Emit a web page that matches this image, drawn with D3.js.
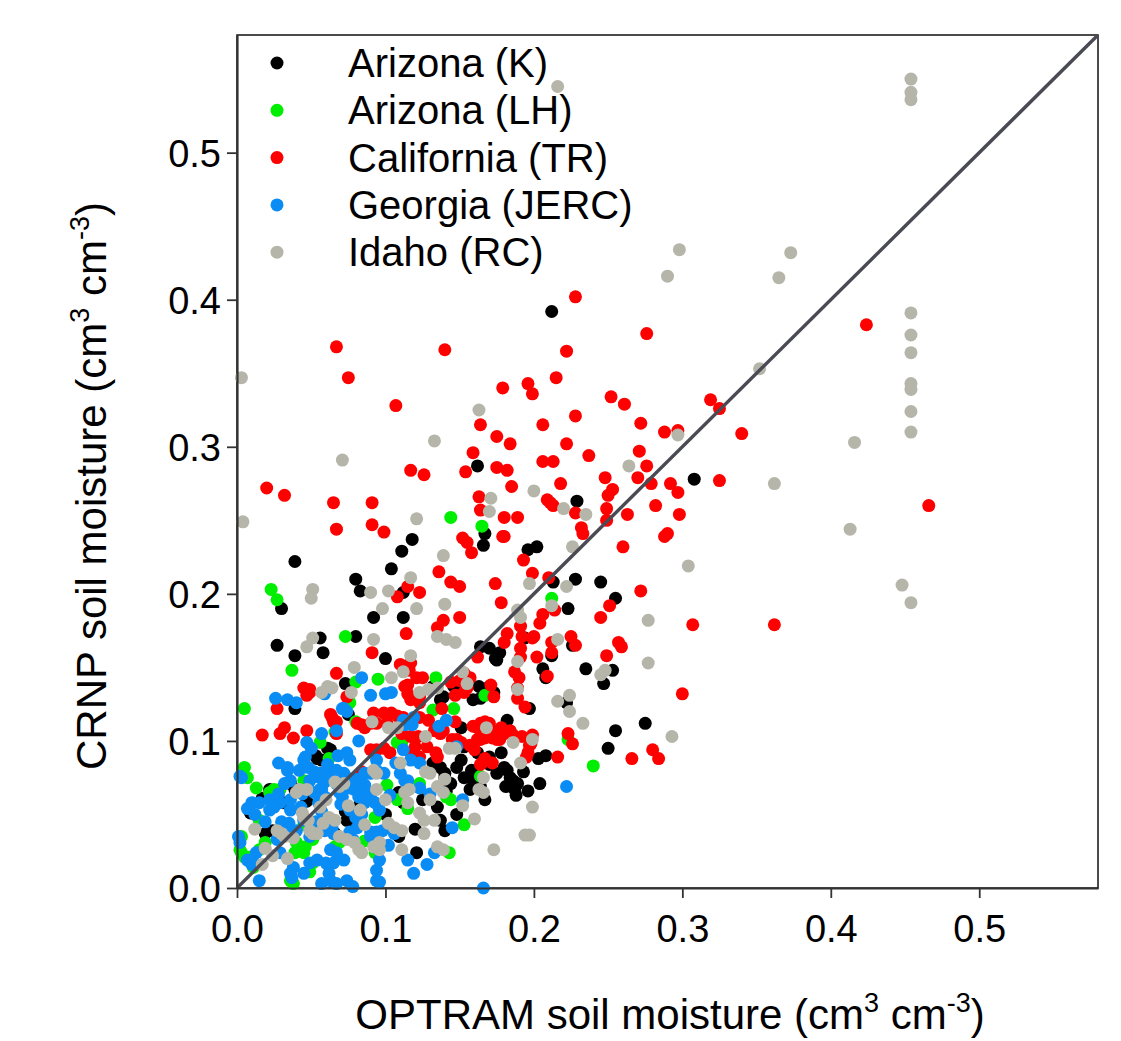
<!DOCTYPE html>
<html>
<head>
<meta charset="utf-8">
<script src="https://cdn.jsdelivr.net/npm/d3@7"></script>
<style>
  html, body { margin: 0; padding: 0; background: #fff; }
  svg text { font-family: Arial, "Liberation Sans", sans-serif; fill: #000; }
</style>
</head>
<body>
<div id="chart"></div>
<script>
// Legend entries and colours
const seriesNames = ["Arizona (K)", "Arizona (LH)", "California (TR)", "Georgia (JERC)", "Idaho (RC)"];
const seriesColors = ["#000000", "#00ee00", "#ff0000", "#0a8cf5", "#b5b5a9"];
const xTicks = [0.0, 0.1, 0.2, 0.3, 0.4, 0.5];
const yTicks = [0.0, 0.1, 0.2, 0.3, 0.4, 0.5];

// [OPTRAM, CRNP] soil moisture
const arizonaK = [
  [.212,.392],[.162,.287],[.308,.278],[.229,.263],[.167,.241],[.118,.237],[.111,.229],[.166,.233],
  [.039,.222],[.104,.217],[.080,.210],[.083,.202],[.112,.201],[.030,.190],[.092,.184],[.112,.184],
  [.027,.165],[.056,.170],[.080,.171],[.100,.156],[.039,.158],[.164,.164],[.170,.163],[.177,.160],
  [.174,.156],[.196,.230],[.202,.232],[.213,.208],[.228,.210],[.245,.208],[.255,.197],[.223,.190],
  [.194,.170],[.226,.165],[.212,.158],[.206,.149],[.235,.149],[.253,.148],[.247,.139],[.197,.122],
  [.222,.126],[.255,.107],[.275,.112],[.250,.095],[.208,.090],[.203,.088],[.204,.071],[.073,.139],
  [.137,.128],[.132,.137],[.163,.137],[.170,.137],[.173,.133],[.039,.122],[.075,.118],[.182,.114],
  [.162,.092],[.170,.089],[.180,.082],[.153,.096],[.184,.075],[.189,.071],[.187,.067],[.137,.082],
  [.140,.075],[.144,.071],[.153,.075],[.157,.067],[.135,.055],[.137,.046],[.140,.039],[.109,.065],
  [.112,.058],[.109,.035],[.053,.090],[.061,.095],[.057,.087],[.009,.051],[.022,.067],[.036,.071],
  [.039,.067],[.073,.052],[.074,.046],[.121,.024],[.019,.037],[.066,.037],[.054,.088],[.063,.094],
  [.175,.155],[.208,.143],[.146,.137],[.139,.130],[.159,.128],[.164,.129],[.151,.109],[.151,.087],
  [.148,.082],[.159,.073],[.164,.069],[.170,.084],[.175,.078],[.182,.080],[.186,.073],[.181,.069],
  [.188,.063],[.132,.085],[.140,.078],[.141,.066],[.058,.160],[.024,.039],[.047,.059],
  [.178,.092],[.193,.079],[.196,.066],[.158,.080],[.167,.060],[.125,.060],[.120,.040],[.100,.050],
  [.083,.058],[.079,.043],[.031,.058],[.017,.061],[.148,.050]
];
const arizonaLH = [
  [.144,.252],[.165,.246],[.023,.203],[.027,.196],[.212,.197],[.073,.171],[.037,.148],[.080,.140],
  [.095,.142],[.134,.143],[.146,.122],[.005,.122],[.076,.126],[.080,.113],[.134,.107],[.223,.101],
  [.240,.083],[.164,.076],[.141,.062],[.144,.060],[.153,.043],[.108,.060],[.115,.054],[.093,.048],
  [.005,.082],[.007,.075],[.013,.068],[.015,.046],[.022,.065],[.029,.067],[.045,.043],[.066,.028],
  [.069,.031],[.093,.024],[.143,.024],[.036,.005],[.015,.026],[.019,.031],[.002,.026],[.003,.024],
  [.039,.024],[.045,.024],[.051,.033],[.056,.099],[.045,.073],[.025,.067],[.027,.060],[.051,.017],
  [.049,.011],[.038,.003],[.003,.035],[.005,.021],[.040,.031],[.046,.028],[.009,.021],[.011,.014],
  [.108,.099],[.111,.099],[.123,.071],[.167,.131],[.132,.121],[.066,.106],[.118,.089],
  [.062,.088],[.101,.070],[.086,.032]
];
const californiaTR = [
  [.067,.368],[.140,.366],[.075,.347],[.107,.328],[.179,.340],[.196,.343],[.199,.336],[.164,.315],
  [.175,.307],[.184,.302],[.159,.296],[.175,.286],[.182,.284],[.154,.283],[.117,.284],[.126,.281],
  [.185,.273],[.020,.272],[.032,.267],[.065,.262],[.091,.262],[.163,.266],
  [.228,.402],[.424,.383],[.276,.377],[.222,.365],[.215,.347],[.252,.334],[.261,.329],[.319,.332],
  [.325,.326],[.228,.321],[.206,.315],[.272,.316],[.288,.310],[.297,.311],[.340,.309],[.222,.302],
  [.271,.297],[.237,.294],[.206,.290],[.213,.290],[.276,.287],[.270,.279],[.248,.279],[.279,.275],
  [.325,.277],[.292,.275],[.297,.269],[.218,.275],[.253,.271],[.250,.267],[.209,.264],[.213,.260],
  [.228,.255],[.249,.258],[.249,.250],[.263,.254],[.282,.260],[.298,.254],[.180,.252],[.189,.252],
  [.232,.245],[.233,.241],[.288,.239],[.290,.241],[.180,.239],[.260,.232],[.193,.223],[.199,.214],
  [.210,.211],[.272,.202],[.251,.192],[.245,.184],[.307,.179],[.362,.179],[.206,.186],[.204,.180],
  [.199,.170],[.225,.171],[.228,.165],[.257,.167],[.259,.164],[.466,.260],
  [.211,.262],[.214,.189],[.212,.167],[.200,.171],[.212,.160],[.202,.157],[.249,.158],[.209,.144],
  [.300,.132],[.223,.105],[.226,.098],[.199,.104],[.197,.097],[.280,.094],[.284,.088],[.266,.088],
  [.216,.089],
  [.067,.244],[.091,.247],[.099,.242],[.164,.257],[.152,.238],[.155,.235],[.158,.228],[.179,.239],
  [.136,.215],[.115,.205],[.123,.201],[.108,.198],[.144,.208],[.150,.205],[.174,.207],[.178,.194],
  [.114,.173],[.135,.177],[.139,.182],[.150,.184],[.091,.160],[.162,.157],[.191,.178],[.192,.171],
  [.187,.147],[.190,.143],[.189,.136],[.067,.146],[.110,.152],[.117,.153],[.115,.138],[.123,.130],
  [.147,.131],[.153,.133],[.144,.140],[.150,.141],[.153,.146],[.171,.138],[.173,.130],[.045,.136],
  [.049,.133],[.027,.122],[.064,.116],[.067,.113],[.084,.111],[.090,.112],[.104,.119],[.108,.117],
  [.112,.116],[.115,.113],[.123,.116],[.129,.114],[.133,.107],[.139,.107],[.137,.105],[.147,.113],
  [.148,.101],[.162,.109],[.167,.113],[.170,.112],[.173,.107],[.162,.101],[.167,.102],[.172,.102],
  [.177,.101],[.157,.097],[.160,.094],[.180,.105],[.184,.107],[.192,.103],[.196,.092],[.172,.085],
  [.167,.088],[.165,.085],[.182,.173],[.180,.167],[.191,.163],[.191,.157],[.189,.129],[.194,.123],
  [.116,.148],[.121,.143],[.125,.143],[.157,.143],[.155,.136],[.113,.137],[.115,.132],[.117,.128],
  [.123,.126],[.138,.122],[.159,.110],[.164,.112],[.178,.109],[.186,.104],[.198,.098],[.195,.089],
  [.164,.101],[.175,.101],[.164,.084],[.145,.101],[.151,.099],[.134,.092],[.135,.089],[.111,.105],
  [.117,.103],[.122,.103],[.120,.096],[.117,.092],[.123,.089],[.128,.096],
  [.017,.104],[.029,.105],[.032,.109],[.038,.102],[.047,.107],[.047,.131],[.049,.135],[.063,.118],
  [.065,.113],[.067,.105],[.092,.119],[.099,.119],[.101,.112],[.094,.112],[.090,.094],[.094,.094],
  [.099,.095],[.103,.092],[.084,.079],[.081,.112],[.086,.109],[.074,.130]
];
const georgiaJERC = [
  [.084,.143],[.090,.131],[.100,.132],[.104,.133],[.026,.129],[.034,.128],[.040,.126],[.071,.122],
  [.074,.120],[.062,.136],[.059,.132],[.112,.114],[.115,.112],[.119,.116],[.141,.114],[.152,.060],
  [.145,.041],[.123,.085],[.117,.087],[.115,.073],[.110,.078],[.123,.068],[.130,.064],[.086,.058],
  [.090,.061],[.098,.039],[.106,.037],[.086,.078],[.086,.070],[.076,.087],[.074,.092],[.072,.078],
  [.067,.071],[.069,.065],[.056,.078],[.059,.072],[.057,.067],[.049,.073],[.052,.065],[.046,.089],
  [.048,.082],[.028,.085],[.034,.082],[.036,.073],[.003,.075],[.010,.058],[.007,.054],[.012,.050],
  [.025,.055],[.022,.053],[.032,.071],[.036,.053],[.030,.045],[.035,.044],[.057,.052],[.062,.046],
  [.065,.037],[.076,.053],[.080,.048],[.081,.041],[.063,.026],[.067,.024],[.072,.019],[.090,.035],
  [.102,.029],[.096,.019],[.094,.012],[.115,.019],[.119,.010],[.128,.016],[.133,.024],[.096,.004],
  [.166,.000],[.057,.003],[.063,.005],[.067,.003],[.074,.005],[.078,.001],[.045,.010],[.049,.017],
  [.037,.007],[.038,.014],[.015,.005],[.010,.016],[.013,.024],[.007,.019],[.001,.035],[.002,.031],
  [.037,.037],[.040,.039],[.051,.038],[.054,.019],[.061,.016],[.057,.105],[.067,.107],[.072,.122],
  [.047,.099],[.034,.080],[.045,.087],[.042,.080],[.015,.058],[.022,.060],[.029,.058],[.036,.060],
  [.056,.075],[.056,.067],[.055,.058],[.059,.062],[.063,.078],[.067,.080],[.074,.075],[.076,.068],
  [.079,.067],[.082,.062],[.086,.067],[.090,.078],[.094,.080],[.089,.061],[.093,.058],[.096,.053],
  [.094,.087],[.099,.078],[.090,.038],[.094,.038],[.076,.038],[.078,.033],[.060,.017],[.065,.017],
  [.062,.010],[.036,.010],[.011,.017],[.029,.024],[.027,.033],[.045,.046],[.049,.035],[.059,.039],
  [.064,.041],[.094,.005],[.222,.069],[.148,.096],[.113,.111],[.118,.111],[.112,.094],[.113,.073],
  [.002,.076],[.050,.095],[.044,.064],[.070,.057],
  [.061,.084],[.052,.079],[.068,.090],[.080,.074],[.071,.062],[.053,.045],[.084,.050],[.103,.063],
  [.107,.085],[.043,.055],[.019,.045],[.028,.064],[.136,.110],[.082,.100]
];
const idahoRC = [
  [.003,.347],[.004,.249],[.216,.545],[.298,.434],[.290,.416],[.365,.415],[.373,.432],[.352,.353],
  [.454,.550],[.454,.541],[.454,.536],[.454,.391],[.454,.376],[.454,.364],[.454,.343],[.454,.339],
  [.454,.324],[.454,.310],[.448,.206],[.454,.194],[.416,.303],[.413,.244],[.362,.275],[.304,.219],
  [.297,.308],[.264,.287],[.277,.182],[.277,.153],[.293,.103],[.220,.258],[.235,.254],[.226,.232],
  [.163,.325],[.133,.304],[.071,.291],[.171,.265],[.200,.270],[.197,.207],[.222,.205],[.212,.192],
  [.189,.189],[.191,.184],[.216,.169],[.216,.127],[.224,.131],[.224,.120],[.233,.112],[.248,.148],
  [.245,.145],[.199,.101],[.199,.055],[.197,.036],[.121,.251],[.139,.226],[.117,.211],[.051,.203],
  [.050,.197],[.090,.201],[.102,.202],[.098,.190],[.121,.190],[.140,.193],[.170,.256],[.051,.170],
  [.047,.164],[.092,.169],[.117,.158],[.135,.171],[.141,.169],[.147,.167],[.189,.154],[.079,.150],
  [.077,.133],[.104,.143],[.112,.147],[.123,.133],[.129,.135],[.135,.136],[.152,.147],[.155,.139],
  [.057,.133],[.061,.137],[.064,.136],[.091,.113],[.102,.109],[.108,.109],[.127,.103],[.143,.095],
  [.147,.095],[.168,.109],[.186,.099],[.191,.085],[.166,.075],[.163,.067],[.166,.065],[.135,.069],
  [.139,.065],[.130,.078],[.130,.060],[.133,.046],[.126,.046],[.123,.051],[.126,.037],[.116,.067],
  [.113,.065],[.115,.058],[.102,.044],[.106,.041],[.111,.039],[.094,.078],[.094,.067],[.092,.080],
  [.066,.072],[.069,.069],[.072,.071],[.040,.065],[.042,.067],[.044,.051],[.045,.048],[.048,.046],
  [.049,.039],[.051,.037],[.056,.055],[.062,.048],[.066,.046],[.083,.053],[.086,.043],[.069,.035],
  [.074,.033],[.079,.031],[.082,.026],[.084,.024],[.092,.028],[.096,.026],[.096,.031],[.111,.026],
  [.135,.028],[.139,.026],[.173,.026],[.194,.036],[.019,.027],[.017,.016],[.034,.020],[.027,.039],
  [.030,.037],[.047,.067],[.032,.035],[.038,.034],[.054,.037],[.189,.135],[.110,.085],[.127,.079],
  [.140,.074],
  [.060,.060],[.075,.056],[.058,.044],[.100,.060],[.152,.056],[.160,.047],[.012,.040],[.024,.022]
];
const seriesData = [arizonaK, arizonaLH, californiaTR, georgiaJERC, idahoRC];

const width = 1121, height = 1041;
const plot = { left: 237, right: 1098, top: 35, bottom: 888 };

const svg = d3.select('#chart')
  .append('svg')
  .attr('width', width)
  .attr('height', height);

const x = d3.scaleLinear().domain([0, 0.58]).range([plot.left, plot.right]);
const y = d3.scaleLinear().domain([0, 0.58]).range([plot.bottom, plot.top]);

// Frame (top / right are thin)
svg.append('rect')
  .attr('x', plot.left)
  .attr('y', plot.top)
  .attr('width', plot.right - plot.left)
  .attr('height', plot.bottom - plot.top)
  .attr('fill', '#fff')
  .attr('stroke', '#111')
  .attr('stroke-width', 1.5);

// Points, drawn series by series
seriesData.forEach((pts, i) => {
  svg.append('g')
    .selectAll('circle')
    .data(pts)
    .enter()
    .append('circle')
    .attr('cx', d => x(d[0]))
    .attr('cy', d => y(d[1]))
    .attr('r', 6.5)
    .attr('fill', seriesColors[i]);
});

// 1:1 line
svg.append('line')
  .attr('x1', x(0)).attr('y1', y(0))
  .attr('x2', x(0.58)).attr('y2', y(0.58))
  .attr('stroke', '#4a4a54')
  .attr('stroke-width', 3.4);

// Axes
const xAxis = svg.append('g')
  .attr('transform', `translate(0,${plot.bottom})`)
  .call(d3.axisBottom(x).tickValues(xTicks).tickFormat(d3.format('.1f')).tickSize(10).tickSizeOuter(0).tickPadding(17));
const yAxis = svg.append('g')
  .attr('transform', `translate(${plot.left},0)`)
  .call(d3.axisLeft(y).tickValues(yTicks).tickFormat(d3.format('.1f')).tickSize(10).tickSizeOuter(0).tickPadding(6));

[xAxis, yAxis].forEach(g => {
  g.select('.domain').attr('stroke', '#333').attr('stroke-width', 2.2);
  g.selectAll('.tick line').attr('stroke', '#333').attr('stroke-width', 1.8);
  g.selectAll('.tick text')
    .attr('font-size', '38px')
    .attr('font-family', 'Arial, "Liberation Sans", sans-serif')
    .attr('fill', '#000');
});
xAxis.selectAll('.tick text').attr('dy', '0.71em');
yAxis.selectAll('.tick text').attr('dy', '0.36em');

// Axis titles with superscripts
function addTitle(g, label) {
  const t = g.append('text').attr('font-size', '42px').attr('text-anchor', 'middle');
  t.append('tspan').text(label + ' (cm');
  t.append('tspan').attr('font-size', '27px').attr('dy', -17).text('3');
  t.append('tspan').attr('dy', 17).text(' cm');
  t.append('tspan').attr('font-size', '27px').attr('dy', -17).text('-3');
  t.append('tspan').attr('dy', 17).text(')');
  return t;
}
addTitle(svg.append('g').attr('transform', 'translate(670,1029)'), 'OPTRAM soil moisture');
addTitle(svg.append('g').attr('transform', 'translate(106,486) rotate(-90)'), 'CRNP soil moisture');

// Legend
const legend = svg.append('g').attr('class', 'legend');
seriesNames.forEach((name, i) => {
  const row = legend.append('g')
    .attr('transform', `translate(277, ${63 + i * 47.3})`);
  row.append('circle').attr('r', 6.5).attr('fill', seriesColors[i]);
  row.append('text')
    .attr('x', 71)
    .attr('y', 14)
    .attr('font-size', '40px')
    .text(name);
});
</script>
</body>
</html>
